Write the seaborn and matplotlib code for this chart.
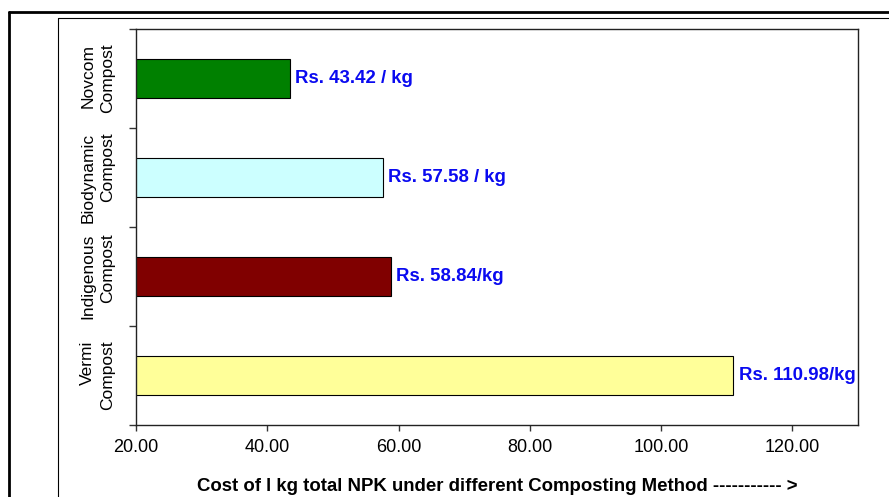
import numpy as np
import pandas as pd
import seaborn as sns
import matplotlib.pyplot as plt
from matplotlib.lines import Line2D

methods = ['Novcom\nCompost', 'Biodynamic\nCompost', 'Indigenous\nCompost', 'Vermi\nCompost']
costs = [43.42, 57.58, 58.84, 110.98]
labels = ['Rs. 43.42 / kg', 'Rs. 57.58 / kg', 'Rs. 58.84/kg', 'Rs. 110.98/kg']
colors = ['#008000', '#CCFFFF', '#800000', '#FFFF99']
x_ticks = [20, 40, 60, 80, 100, 120]


def main():
    sns.set_style('white')
    plt.rcParams['font.family'] = ['Liberation Sans', 'DejaVu Sans']
    plt.rcParams['text.color'] = 'black'
    plt.rcParams['xtick.color'] = 'black'
    plt.rcParams['ytick.color'] = 'black'
    plt.rcParams['axes.labelcolor'] = 'black'

    df = pd.DataFrame({'method': methods, 'cost': costs})

    fig = plt.figure(figsize=(8.89, 4.97), dpi=100)
    ax = fig.add_axes([136 / 889, 1 - 425 / 497, (858 - 136) / 889, (425 - 29) / 497])

    sns.barplot(data=df, x='cost', y='method', hue='method', palette=colors,
                order=methods, width=0.4, edgecolor='black', linewidth=0.8,
                saturation=1, legend=False, ax=ax)

    ax.set_xlim(20, 130)
    ax.set_ylim(3.5, -0.5)
    ax.set_xticks(x_ticks)
    ax.set_xticklabels([f'{v:.2f}' for v in x_ticks], fontsize=13)
    ax.set_yticks(range(len(methods)))
    ax.set_yticklabels(methods, rotation=90, va='center', ha='right', fontsize=12.5,
                       linespacing=1.4)
    ax.set_yticks(np.arange(-0.5, len(methods), 1), minor=True)
    ax.tick_params(axis='y', which='major', length=0, pad=15)
    ax.tick_params(axis='y', which='minor', length=5, width=1, color='#333333', direction='out', left=True)
    ax.tick_params(axis='x', length=4, width=1, color='#333333', direction='out', bottom=True, pad=6)

    for s in ax.spines.values():
        s.set_color('#222222')
        s.set_linewidth(1.0)

    ax.set_ylabel('')
    ax.set_xlabel('Cost of l kg total NPK under different Composting Method ----------- >',
                  fontsize=13.4, fontweight='bold', labelpad=16)

    for i, (v, t) in enumerate(zip(costs, labels)):
        ax.annotate(t, (v, i), xytext=(4, 0), textcoords='offset points',
                    va='center', ha='left', color='#0A0AF0', fontsize=13.4, fontweight='bold')

    # outer frames
    fig.add_artist(Line2D([9 / 889, 9 / 889], [0, 1 - 12 / 497], color='black', lw=2, transform=fig.transFigure))
    fig.add_artist(Line2D([9 / 889, 1], [1 - 12 / 497, 1 - 12 / 497], color='black', lw=2, transform=fig.transFigure))
    fig.add_artist(Line2D([58 / 889, 58 / 889], [0, 1 - 18 / 497], color='black', lw=0.8, transform=fig.transFigure))
    fig.add_artist(Line2D([58 / 889, 1], [1 - 18 / 497, 1 - 18 / 497], color='black', lw=0.8, transform=fig.transFigure))

    fig.savefig('out.png', dpi=100)


if __name__ == '__main__':
    main()
